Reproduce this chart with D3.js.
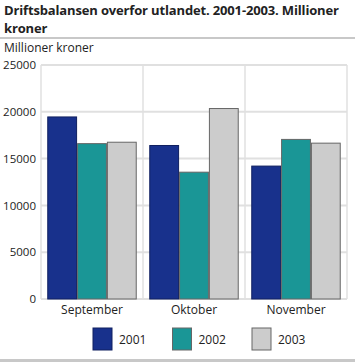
<!DOCTYPE html>
<html><head><meta charset="utf-8">
<script src="https://cdn.jsdelivr.net/npm/d3@7"></script>
<style>
body{margin:0;background:#fff;}
svg{display:block;font-family:"Open Sans",sans-serif;}
</style></head>
<body><svg id="c" width="355" height="362"></svg>
<script>
const categories = ["September", "Oktober", "November"];
const seriesNames = ["2001", "2002", "2003"];
const values2001 = [19450, 16400, 14200];
const values2002 = [16600, 13550, 17050];
const values2003 = [16750, 20350, 16650];
const yTicks = [0, 5000, 10000, 15000, 20000, 25000];
const colors = ["#18318c", "#1a9696", "#cccccc"];

const seriesValues = [values2001, values2002, values2003];
const data = categories.map((c, i) => ({cat: c, vals: seriesNames.map((s, j) => ({s, v: seriesValues[j][i], j}))}));

const svg = d3.select("#c");
const L = 41, R = 347, T = 65, B = 299;

svg.append("text").attr("x", 4).attr("y", 15).attr("font-size", 13).attr("font-weight", "bold").attr("fill", "#222")
  .attr("letter-spacing", -0.15)
  .text("Driftsbalansen overfor utlandet. 2001-2003. Millioner");
svg.append("text").attr("x", 4).attr("y", 33).attr("font-size", 13).attr("font-weight", "bold").attr("fill", "#222")
  .attr("letter-spacing", -0.15)
  .text("kroner");
svg.append("rect").attr("x", 0).attr("y", 37).attr("width", 355).attr("height", 2).attr("fill", "#c8c8c8");
svg.append("text").attr("x", 4).attr("y", 52).attr("font-size", 12).attr("fill", "#222").text("Millioner kroner");

const x = d3.scaleBand().domain(categories).range([L, R]);
const x1 = d3.scaleBand().domain(seriesNames).range([0, x.bandwidth()]).paddingOuter(0.21).paddingInner(0);
const y = d3.scaleLinear().domain([0, 25000]).range([B, T]);

// horizontal grid
svg.append("g").selectAll("line").data(yTicks).join("line")
  .attr("x1", L).attr("x2", R).attr("y1", d => y(d)).attr("y2", d => y(d))
  .attr("stroke", "#e0e0e0").attr("stroke-width", 2);
// vertical grid
svg.append("g").selectAll("line").data(d3.range(categories.length + 1)).join("line")
  .attr("x1", i => L + i * x.bandwidth()).attr("x2", i => L + i * x.bandwidth())
  .attr("y1", T).attr("y2", B).attr("stroke", "#e0e0e0").attr("stroke-width", 1.5);

// y axis labels
const yAxis = d3.axisLeft(y).tickValues(yTicks).tickSize(0).tickPadding(5).tickFormat(d3.format("d"));
const ya = svg.append("g").attr("transform", `translate(${L},0)`).call(yAxis);
ya.select(".domain").remove();
ya.selectAll("text").attr("font-size", 11.5).attr("fill", "#222").attr("font-family", "Open Sans, sans-serif");

// bars
const g = svg.append("g").selectAll("g").data(data).join("g").attr("transform", d => `translate(${x(d.cat)},0)`);
g.selectAll("rect").data(d => d.vals).join("rect")
  .attr("x", d => x1(d.s) + 0.5).attr("width", x1.bandwidth() - 1)
  .attr("y", d => y(d.v)).attr("height", d => y(0) - y(d.v))
  .attr("fill", d => colors[d.j]).attr("stroke", d => d.j === 0 ? "#102060" : "#666").attr("stroke-width", 1);

// x axis
const xAxis = d3.axisBottom(x).tickSize(0).tickPadding(6);
const xa = svg.append("g").attr("transform", `translate(0,${B})`).call(xAxis);
xa.select(".domain").remove();
xa.selectAll("text").attr("font-size", 12).attr("fill", "#222").attr("font-family", "Open Sans, sans-serif");

// legend
const lg = svg.append("g").selectAll("g").data(seriesNames).join("g")
  .attr("transform", (d, i) => `translate(${93 + i * 79.5},328)`);
lg.append("rect").attr("x", 0).attr("y", 0).attr("width", 19).attr("height", 22)
  .attr("fill", (d, i) => colors[i]).attr("stroke", (d, i) => i === 0 ? "#102060" : "#666");
lg.append("text").attr("x", 26).attr("y", 16).attr("font-size", 12).attr("fill", "#222").text(d => d);

svg.append("rect").attr("x", 0).attr("y", 359).attr("width", 355).attr("height", 3).attr("fill", "#c8c8c8");
</script></body></html>
